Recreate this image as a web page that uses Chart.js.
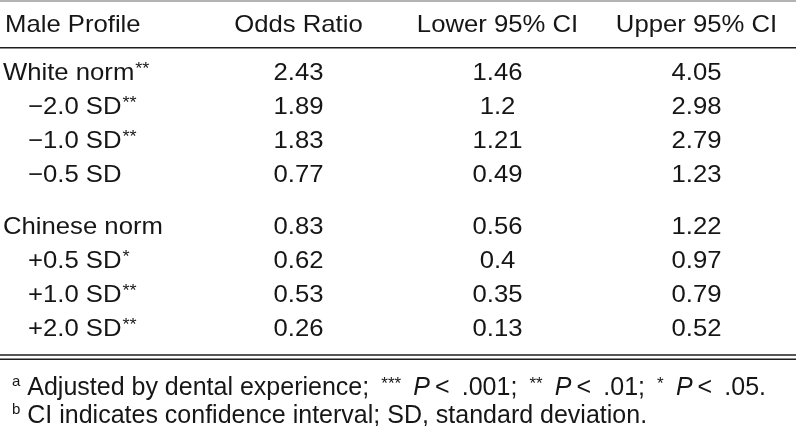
<!DOCTYPE html>
<html>
<head>
<meta charset="utf-8">
<title>Male Profile odds ratios</title>
<script src="https://cdn.jsdelivr.net/npm/chart.js@4.4.1/dist/chart.umd.min.js"></script>
<style>
  html, body { margin: 0; padding: 0; background: #ffffff; }
  canvas { display: block; }
</style>
</head>
<body>
<canvas id="odds-table" width="796" height="426"></canvas>
<script>
/**
 * Odds ratio table drawn on a Chart.js scatter: every cell is a point,
 * a small plugin prints the text at the point's pixel position.
 */

const columnHeaders = ["Male Profile", "Odds Ratio", "Lower 95% CI", "Upper 95% CI"];

const profiles = [
  "White norm", "\u22122.0 SD", "\u22121.0 SD", "\u22120.5 SD",
  "Chinese norm", "+0.5 SD", "+1.0 SD", "+2.0 SD",
];
const significance = ["**", "**", "**", "", "", "*", "**", "**"];
const profileGroup = [0, 0, 0, 0, 1, 1, 1, 1];
const isSubRow = [false, true, true, true, false, true, true, true];

const oddsRatio = [2.43, 1.89, 1.83, 0.77, 0.83, 0.62, 0.53, 0.26];
const lowerCI = [1.46, 1.2, 1.21, 0.49, 0.56, 0.4, 0.35, 0.13];
const upperCI = [4.05, 2.98, 2.79, 1.23, 1.22, 0.97, 0.79, 0.52];

// loose: spaces that take up the slack of the justified line
const footnoteA = [
  { text: "a", sup: true },
  { text: " Adjusted by dental experience;" },
  { text: " ", loose: true },
  { text: "***", sup: true },
  { text: " ", loose: true },
  { text: "P", italic: true },
  { text: "\u2009<" },
  { text: " ", loose: true },
  { text: ".001;" },
  { text: " ", loose: true },
  { text: "**", sup: true },
  { text: " ", loose: true },
  { text: "P", italic: true },
  { text: "\u2009<" },
  { text: " ", loose: true },
  { text: ".01;" },
  { text: " ", loose: true },
  { text: "*", sup: true },
  { text: " ", loose: true },
  { text: "P", italic: true },
  { text: "\u2009<" },
  { text: " ", loose: true },
  { text: ".05." },
];
const footnoteB = [
  { text: "b", sup: true },
  { text: " CI indicates confidence interval; SD, standard deviation." },
];

// layout, in row units on the y scale
const HEADER_ROW = 0;
const FIRST_ROW = 1.4;
const GROUP_GAP = 0.5;
const FOOTNOTE_ROWS = [10.63, 11.45];

const FONT_FAMILY = '"Liberation Sans", Arial, Helvetica, sans-serif';
const BODY_SIZE = 24;
const BODY_STRETCH = 1.07;
const NOTE_SIZE = 25;
const NOTE_STRETCH = 1.0;
const NOTE_RIGHT = 766; // first footnote line is set justified
const TEXT_COLOR = "#161616";

function rowSlot(i) {
  return FIRST_ROW + i + profileGroup[i] * GROUP_GAP;
}

function cellPoints(col, values) {
  return values.map((v, i) => ({ x: col, y: rowSlot(i), text: String(v) }));
}

function drawStretched(ctx, text, x, y, stretch) {
  ctx.save();
  ctx.translate(x, y);
  ctx.scale(stretch, 1);
  ctx.fillText(text, 0, 0);
  ctx.restore();
  return ctx.measureText(text).width * stretch;
}

// text is vertically centred on the cap height
function capBaseline(centerY, size) {
  return centerY + size * 0.358;
}

function drawProfileLabel(ctx, label, stars, x, centerY) {
  const base = capBaseline(centerY, BODY_SIZE);
  ctx.textAlign = "left";
  ctx.font = `${BODY_SIZE}px ${FONT_FAMILY}`;
  const w = drawStretched(ctx, label, x, base, BODY_STRETCH);
  if (stars) {
    ctx.font = `17px ${FONT_FAMILY}`;
    drawStretched(ctx, stars, x + w + 1, base - 6, BODY_STRETCH);
  }
}

function setNoteFont(ctx, p) {
  if (p.sup) {
    ctx.font = `${/[ab]/.test(p.text) ? 15 : 17}px ${FONT_FAMILY}`;
  } else {
    ctx.font = `${p.italic ? "italic " : ""}${NOTE_SIZE}px ${FONT_FAMILY}`;
  }
}

function drawFootnote(ctx, parts, x, centerY, justifyTo) {
  const base = capBaseline(centerY, NOTE_SIZE);
  ctx.textAlign = "left";

  let natural = 0;
  let gaps = 0;
  parts.forEach((p) => {
    setNoteFont(ctx, p);
    natural += ctx.measureText(p.text).width * NOTE_STRETCH;
    if (p.loose) gaps += 1;
  });
  const extra = justifyTo && gaps ? Math.max(0, (justifyTo - x - natural) / gaps) : 0;

  let cursor = x;
  parts.forEach((p) => {
    setNoteFont(ctx, p);
    const lift = p.sup ? (/[ab]/.test(p.text) ? 9 : 6) : 0;
    cursor += drawStretched(ctx, p.text, cursor, base - lift, NOTE_STRETCH);
    if (p.loose) cursor += extra;
  });
}

function drawRule(ctx, area, yPx, color, width) {
  ctx.save();
  ctx.strokeStyle = color;
  ctx.lineWidth = width;
  ctx.beginPath();
  ctx.moveTo(area.left, yPx);
  ctx.lineTo(area.right, yPx);
  ctx.stroke();
  ctx.restore();
}

const tableTextPlugin = {
  id: "tableText",
  afterDatasetsDraw(chart) {
    const { ctx, chartArea, scales } = chart;
    const xs = scales.x;
    const ys = scales.y;
    const last = profiles.length - 1;

    ctx.save();
    ctx.fillStyle = TEXT_COLOR;

    // rules
    drawRule(ctx, chartArea, ys.getPixelForValue(HEADER_ROW - 0.67), "#9a9a9a", 1.5);
    drawRule(ctx, chartArea, ys.getPixelForValue((HEADER_ROW + FIRST_ROW) / 2), "#1e1e1e", 1.6);
    drawRule(ctx, chartArea, ys.getPixelForValue(rowSlot(last) + 0.82), "#1e1e1e", 1.5);
    drawRule(ctx, chartArea, ys.getPixelForValue(rowSlot(last) + 0.94), "#1e1e1e", 1.5);

    // header
    const headerY = capBaseline(ys.getPixelForValue(HEADER_ROW), BODY_SIZE);
    ctx.font = `${BODY_SIZE}px ${FONT_FAMILY}`;
    columnHeaders.forEach((h, col) => {
      if (col === 0) {
        ctx.textAlign = "left";
        drawStretched(ctx, h, xs.getPixelForValue(-0.5) + 5, headerY, BODY_STRETCH);
      } else {
        ctx.textAlign = "center";
        drawStretched(ctx, h, xs.getPixelForValue(col), headerY, BODY_STRETCH);
      }
    });

    // row labels (dataset 0)
    chart.getDatasetMeta(0).data.forEach((pt, i) => {
      const indent = isSubRow[i] ? 28 : 3;
      drawProfileLabel(ctx, profiles[i], significance[i], pt.x + indent, pt.y);
    });

    // numeric cells
    for (let d = 1; d < chart.data.datasets.length; d++) {
      const ds = chart.data.datasets[d];
      chart.getDatasetMeta(d).data.forEach((pt, i) => {
        ctx.font = `${BODY_SIZE}px ${FONT_FAMILY}`;
        ctx.textAlign = "center";
        drawStretched(ctx, ds.data[i].text, pt.x, capBaseline(pt.y, BODY_SIZE), BODY_STRETCH);
      });
    }

    // footnotes
    const noteX = xs.getPixelForValue(-0.5) + 12;
    drawFootnote(ctx, footnoteA, noteX, ys.getPixelForValue(FOOTNOTE_ROWS[0]), NOTE_RIGHT);
    drawFootnote(ctx, footnoteB, noteX, ys.getPixelForValue(FOOTNOTE_ROWS[1]));

    ctx.restore();
  },
};

const hiddenPoint = { pointRadius: 0, pointHoverRadius: 0, showLine: false };

new Chart(document.getElementById("odds-table"), {
  type: "scatter",
  data: {
    datasets: [
      { label: columnHeaders[0], data: profiles.map((p, i) => ({ x: -0.5, y: rowSlot(i), text: p })), ...hiddenPoint },
      { label: columnHeaders[1], data: cellPoints(1, oddsRatio), ...hiddenPoint },
      { label: columnHeaders[2], data: cellPoints(2, lowerCI), ...hiddenPoint },
      { label: columnHeaders[3], data: cellPoints(3, upperCI), ...hiddenPoint },
    ],
  },
  options: {
    responsive: false,
    animation: false,
    events: [],
    layout: { padding: 0 },
    plugins: {
      legend: { display: false },
      tooltip: { enabled: false },
    },
    scales: {
      x: { type: "linear", min: -0.5, max: 3.5, display: false },
      y: { type: "linear", min: -0.7, max: 11.8, reverse: true, display: false },
    },
  },
  plugins: [tableTextPlugin],
});
</script>
</body>
</html>
